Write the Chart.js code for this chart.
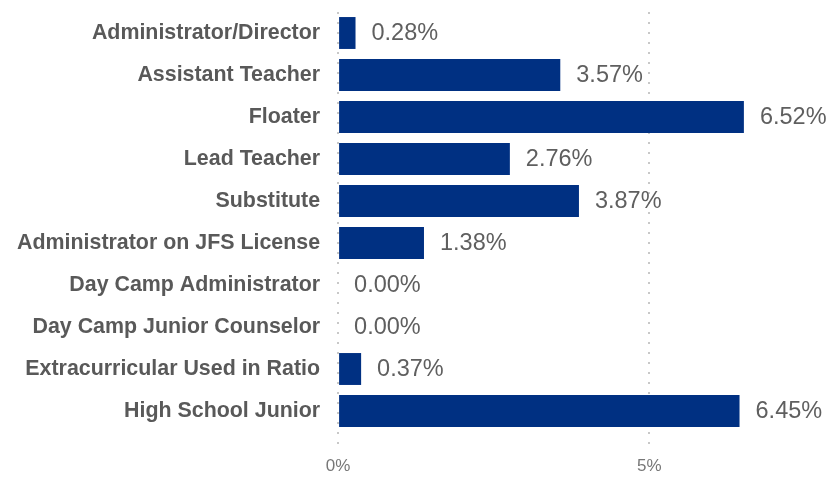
<!DOCTYPE html>
<html>
<head>
<meta charset="utf-8">
<script src="https://cdn.jsdelivr.net/npm/chart.js@4"></script>
<style>
  html, body { margin: 0; padding: 0; background: #fff; }
  #wrap { width: 838px; height: 477px; }
</style>
</head>
<body>
<div id="wrap"><canvas id="grafico"></canvas></div>
<script>
// dados do gráfico
const categorias = [
  "Administrator/Director",
  "Assistant Teacher",
  "Floater",
  "Lead Teacher",
  "Substitute",
  "Administrator on JFS License",
  "Day Camp Administrator",
  "Day Camp Junior Counselor",
  "Extracurricular Used in Ratio",
  "High School Junior"
];
const valores = [0.28, 3.57, 6.52, 2.76, 3.87, 1.38, 0.00, 0.00, 0.37, 6.45];
const ticksX = [0, 5];

// escreve o valor na ponta de cada barra
const rotulosBarras = {
  id: "rotulosBarras",
  afterDatasetsDraw(chart) {
    const ctx = chart.ctx;
    const meta = chart.getDatasetMeta(0);
    ctx.save();
    ctx.font = "23.5px 'Liberation Sans', Arial, sans-serif";
    ctx.fillStyle = "#5f5f5f";
    ctx.textAlign = "left";
    ctx.textBaseline = "middle";
    meta.data.forEach((barra, i) => {
      ctx.fillText(valores[i].toFixed(2) + "%", barra.x + 16, barra.y + 1);
    });
    ctx.restore();
  }
};

new Chart(document.getElementById("grafico"), {
  type: "bar",
  data: {
    labels: categorias,
    datasets: [
      {
        data: valores,
        backgroundColor: "#003082",
        barPercentage: 0.76,
        categoryPercentage: 1.0,
      },
    ],
  },
  options: {
    indexAxis: "y",
    responsive: true,
    maintainAspectRatio: false,
    animation: false,
    layout: { padding: { top: 12, right: 2, bottom: 0, left: 7 } },
    plugins: {
      legend: { display: false },
      tooltip: { enabled: false },
    },
    scales: {
      x: {
        min: 0,
        max: 8,
        afterBuildTicks(axis) {
          axis.ticks = ticksX.map((v) => ({ value: v }));
        },
        afterFit(axis) {
          axis.height = 45;
        },
        border: { display: false, dash: [2, 8] },
        grid: {
          color: "#c8c8c8",
          lineWidth: 2,
          tickLength: 15,
          tickBorderDash: [2, 8],
          drawOnChartArea: true,
        },
        ticks: {
          color: "#777",
          padding: 9,
          font: { family: "'Liberation Sans', Arial, sans-serif", size: 17 },
          callback: (v) => v + "%",
        },
      },
      y: {
        // sem folga extra em cima/embaixo do eixo das categorias
        afterFit(axis) {
          axis.paddingTop = 0;
          axis.paddingBottom = 0;
        },
        border: { display: false },
        grid: { display: false },
        ticks: {
          color: "#595959",
          padding: 10,
          font: { family: "'Liberation Sans', Arial, sans-serif", size: 21.4, weight: "bold" },
        },
      },
    },
  },
  plugins: [rotulosBarras],
});
</script>
</body>
</html>
